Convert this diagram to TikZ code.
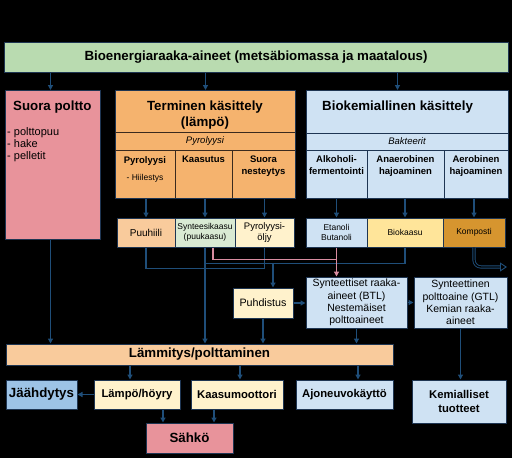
\documentclass[tikz,border=0pt]{standalone}
\usepackage{fontspec}
\setmainfont{Liberation Sans}
\usepackage{xcolor}
\definecolor{cgreen}{HTML}{B9DBB0}
\definecolor{cpink}{HTML}{E8939B}
\definecolor{corange}{HTML}{F5B36E}
\definecolor{cblue}{HTML}{CFE2F3}
\definecolor{cdblue}{HTML}{9DC3E6}
\definecolor{cpeach}{HTML}{F9CB9C}
\definecolor{cmint}{HTML}{D9EAD3}
\definecolor{cyellow}{HTML}{FFF2CC}
\definecolor{cgold}{HTML}{FFE59A}
\definecolor{cbrown}{HTML}{D6952F}
\definecolor{cline}{HTML}{1E3552}
\definecolor{cdiv}{HTML}{3A2A1E}
\definecolor{carrow}{HTML}{1F4E79}
\definecolor{cpinkarr}{HTML}{D98CA0}
\usetikzlibrary{arrows.meta}

\begin{document}
\begin{tikzpicture}[x=1pt, y=-1pt,
  every node/.style={font=\fontsize{10}{12}\selectfont, text=black, inner sep=1pt},
  box/.style={draw=cline, line width=1pt, align=center},
  head/.style={font=\fontsize{13.3}{16}\selectfont\bfseries},
  mid/.style={font=\fontsize{11.3}{14}\selectfont\bfseries},
  sub/.style={font=\fontsize{9.5}{12}\selectfont\bfseries, align=center, anchor=north},
  ital/.style={font=\fontsize{9.5}{12}\selectfont\itshape},
  prod/.style={box, minimum height=29pt, font=\fontsize{8.5}{10}\selectfont},
  divider/.style={draw=cdiv, line width=1pt},
  conn/.style={draw=carrow, line width=1.5pt},
  arr/.style={conn, -{Triangle[length=5pt, width=5pt]}},
  pinkline/.style={draw=cpinkarr, line width=1.5pt},
  pinkarr/.style={pinkline, -{Triangle[length=5pt, width=5pt]}},
  hollow/.style={draw=carrow, line width=0.9pt, double=black, double distance=1.4pt, -{Triangle[open, length=7pt, width=9pt]}}]
  % Background
  \fill[black] (0,0) rectangle (512,458);
  \useasboundingbox (0,0) rectangle (512,458);

  % Raw materials
  \node[box, fill=cgreen, minimum width=504pt, minimum height=30pt, head] (raaka) at (256,57) {Bioenergiaraaka-aineet (metsäbiomassa ja maatalous)};

  % Direct combustion
  \node[box, fill=cpink, minimum width=95pt, minimum height=149pt, anchor=north west] (suora) at (5,90) {};
  \node[head, anchor=west] (suoratitle) at (12,107) {Suora poltto};
  \node[anchor=north west, align=left, font=\fontsize{11}{12}\selectfont] (suoralist) at (6,126) {- polttopuu\\- hake\\- pelletit};

  % Thermal processing
  \node[box, fill=corange, minimum width=180pt, minimum height=108pt, anchor=north west] (terminen) at (115,90) {};
  \node[head, align=center] (termtitle) at (205,115) {Terminen käsittely\\(lämpö)};
  \draw[divider] (115,132) -- (295,132) (115,150) -- (295,150) (175,150) -- (175,198) (232,150) -- (232,198);
  \node[ital] (pyro) at (205,141) {Pyrolyysi};
  \node[sub] (pyrolyysi) at (145,155) {Pyrolyysi};
  \node[font=\fontsize{8.5}{10}\selectfont] (hiilestys) at (145,178) {- Hiilestys};
  \node[sub] (kaasutus) at (203.5,155) {Kaasutus};
  \node[sub] (nesteytys) at (263.5,155) {Suora\\nesteytys};

  % Biochemical processing
  \node[box, fill=cblue, minimum width=202pt, minimum height=108pt, anchor=north west] (bio) at (306,90) {};
  \node[head, anchor=west] (biotitle) at (321,107) {Biokemiallinen käsittely};
  \draw[divider, draw=cline] (306,133) -- (508,133) (306,150) -- (508,150) (367,150) -- (367,198) (444,150) -- (444,198);
  \node[ital] (bakteerit) at (407,141) {Bakteerit};
  \node[sub] (alkoholi) at (336.5,154) {Alkoholi-\\fermentointi};
  \node[sub] (anaerobinen) at (405.5,154) {Anaerobinen\\hajoaminen};
  \node[sub] (aerobinen) at (476,154) {Aerobinen\\hajoaminen};

  % Products
  \node[prod, fill=cpeach, minimum width=58pt, font=\fontsize{10}{12}\selectfont] (puuhiili) at (146,232.5) {Puuhiili};
  \node[prod, fill=cmint, minimum width=60pt] (synkaasu) at (205,232.5) {Synteesikaasu\\(puukaasu)};
  \node[prod, fill=cyellow, minimum width=59pt, font=\fontsize{9.5}{11}\selectfont] (pyroljy) at (264.5,232.5) {Pyrolyysi-\\öljy};
  \node[prod, fill=cblue, minimum width=61pt] (etanoli) at (336.5,232.5) {Etanoli\\Butanoli};
  \node[prod, fill=cgold, minimum width=76pt] (biokaasu) at (405,232.5) {Biokaasu};
  \node[prod, fill=cbrown, minimum width=62pt] (komposti) at (474,232.5) {Komposti};

  % Refining
  \node[box, fill=cyellow, minimum width=60pt, minimum height=30pt, font=\fontsize{10.7}{13}\selectfont] (puhdistus) at (263,303) {Puhdistus};
  \node[box, fill=cblue, minimum width=101pt, minimum height=51pt, font=\fontsize{10.5}{12.3}\selectfont] (synteettiset) at (356.5,302.5) {Synteettiset raaka-\\aineet (BTL)\\Nestemäiset\\polttoaineet};
  \node[box, fill=cblue, minimum width=93pt, minimum height=51pt, font=\fontsize{10.5}{12.3}\selectfont] (synteettinen) at (460.5,302.5) {Synteettinen\\polttoaine (GTL)\\Kemian raaka-\\aineet};

  % End uses
  \node[box, fill=cpeach, minimum width=387pt, minimum height=21pt, head] (lammitys) at (199.5,354.5) {Lämmitys/polttaminen};
  \node[box, fill=cdblue, minimum width=71pt, minimum height=29pt, head] (jaahdytys) at (41.5,394.5) {Jäähdytys};
  \node[box, fill=cyellow, minimum width=86pt, minimum height=29pt, mid] (lampo) at (137,394.5) {Lämpö/höyry};
  \node[box, fill=cyellow, minimum width=92pt, minimum height=29pt, mid] (kaasumoottori) at (237,394.5) {Kaasumoottori};
  \node[box, fill=cblue, minimum width=97pt, minimum height=29pt, mid] (ajoneuvo) at (344.5,394.5) {Ajoneuvokäyttö};
  \node[box, fill=cblue, minimum width=94pt, minimum height=43pt, mid, align=center] (kemialliset) at (459,401.5) {Kemialliset\\tuotteet};
  \node[box, fill=cpink, minimum width=87pt, minimum height=30pt, head] (sahko) at (189.5,438) {Sähkö};

  % Connectors from raw materials
  \draw[arr] ([xshift=-2.5pt]suora.north |- raaka.south) -- ([xshift=-2.5pt]suora.north);
  \draw[arr] (terminen.north |- raaka.south) -- (terminen.north);
  \draw[arr] ([xshift=-10pt]bio.north |- raaka.south) -- ([xshift=-10pt]bio.north);
  % Connectors to products
  \foreach \p in {puuhiili, synkaasu, pyroljy, etanoli, biokaasu, komposti}
    \draw[arr] (\p.north |- terminen.south) -- (\p.north);
  % Product buses
  \draw[conn] (puuhiili.south) -- ++(0,21) -| (pyroljy.south);
  \draw[conn] (synkaasu.south) -- ++(0,16) -| (biokaasu.south);
  \coordinate (gasbus) at (0,263);
  \draw[arr] ([xshift=10pt]puhdistus.north |- gasbus) -- ([xshift=10pt]puhdistus.north);
  \draw[pinkline] (etanoli.south) -- ++(0,12);
  \draw[pinkarr] ([xshift=8pt]synkaasu.south) -- ++(0,12) -| (etanoli.south |- synteettiset.north);
  \coordinate (kompostiout) at (507,267);
  \draw[hollow, rounded corners=7pt] (komposti.south) |- (kompostiout);
  % Refining connectors
  \draw[arr] (puhdistus.east) -- (synteettiset.west |- puhdistus.east);
  \draw[arr] (synteettiset.east) -- (synteettinen.west);
  % Connectors to heating
  \draw[arr] ([xshift=-2.5pt]suora.south) -- ([xshift=-2.5pt]suora.south |- lammitys.north);
  \draw[arr] (synkaasu.south) -- (synkaasu.south |- lammitys.north);
  \draw[arr] (puhdistus.south) -- (puhdistus.south |- lammitys.north);
  \draw[arr] (synteettiset.south) -- (synteettiset.south |- lammitys.north);
  \draw[arr] (synteettinen.south) -- (synteettinen.south |- kemialliset.north);
  % Connectors to end uses
  \draw[arr] ([xshift=-7pt]lampo.north |- lammitys.south) -- ([xshift=-7pt]lampo.north);
  \draw[arr] ([xshift=3pt]kaasumoottori.north |- lammitys.south) -- ([xshift=3pt]kaasumoottori.north);
  \draw[arr] ([xshift=13.5pt]ajoneuvo.north |- lammitys.south) -- ([xshift=13.5pt]ajoneuvo.north);
  \draw[arr] (lampo.west) -- (jaahdytys.east);
  \draw[arr] ([xshift=26pt]lampo.south) -- ([xshift=26pt]lampo.south |- sahko.north);
  \draw[arr] ([xshift=-23pt]kaasumoottori.south) -- ([xshift=-23pt]kaasumoottori.south |- sahko.north);
\end{tikzpicture}
\end{document}
